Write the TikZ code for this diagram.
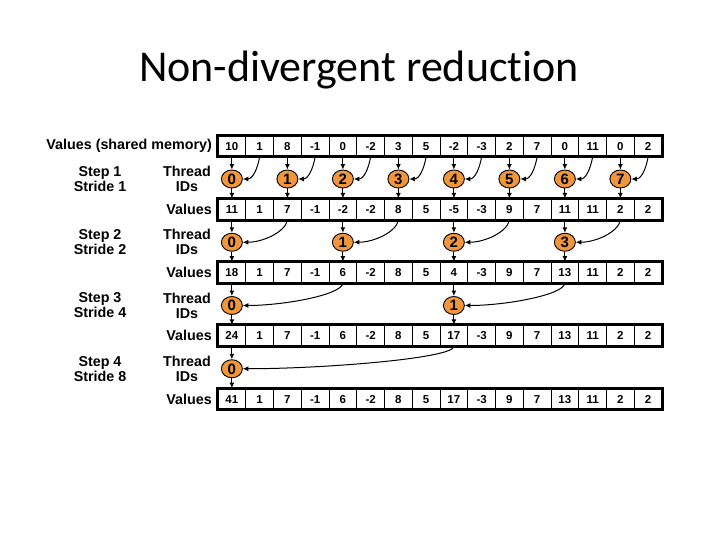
\documentclass[tikz,border=0pt]{standalone}
\usepackage{fontspec}
\setmainfont{Liberation Sans}
\newfontfamily\titlefont[Ligatures=NoCommon]{Carlito}
\usetikzlibrary{arrows.meta,shapes.geometric}
\definecolor{thrfill}{RGB}{240,150,60}
\newcommand\valrow[2]{%
  \foreach \v [count=\c from 0] in {#2} {%
    \node[cell] (v#1-\c) at ({218+27.75*(\c+0.5)},{146+63.25*#1}) {\v};}
  \draw[rowbox] (v#1-0.north west) rectangle (v#1-15.south east);}
\begin{document}
\begin{tikzpicture}[x=1pt,y=-1pt,
  cell/.style={draw,line width=0.8pt,minimum width=27.75pt,minimum height=21pt,inner sep=0pt,
    text height=8.3pt,text depth=0pt,font=\bfseries\fontsize{11.5}{13}\selectfont},
  rowbox/.style={line width=3pt},
  thr/.style={ellipse,draw,line width=0.9pt,fill=thrfill,minimum width=21pt,minimum height=18pt,
    inner sep=0pt,text height=10.7pt,text depth=0pt,font=\bfseries\fontsize{15}{17}\selectfont},
  arr/.style={line width=1pt,-{Latex[length=5.5pt,width=5pt]}},
  lbl/.style={font=\bfseries\fontsize{14.3}{15}\selectfont,align=center,inner sep=0pt}]
\useasboundingbox[fill=white] (0,0) rectangle (720,540);
\node[anchor=base,inner sep=0pt,font=\titlefont\fontsize{44}{50}\selectfont] (title) at (359,82) {Non-divergent reduction};
\valrow{0}{10,1,8,-1,0,-2,3,5,-2,-3,2,7,0,11,0,2}
\valrow{1}{11,1,7,-1,-2,-2,8,5,-5,-3,9,7,11,11,2,2}
\valrow{2}{18,1,7,-1,6,-2,8,5,4,-3,9,7,13,11,2,2}
\valrow{3}{24,1,7,-1,6,-2,8,5,17,-3,9,7,13,11,2,2}
\valrow{4}{41,1,7,-1,6,-2,8,5,17,-3,9,7,13,11,2,2}
\node[lbl,anchor=east] (lv0) at (212,146) {Values (shared memory)};
\foreach \r in {1,2,3,4} {
  \node[lbl,anchor=east] (lv\r) at (212,{146+63.25*\r}) {Values};
}
\foreach \s/\str in {1/1,2/2,3/4,4/8} {
  \node[lbl] (ls\s) at (100,{179+63.25*(\s-1)}) {Step \s\\Stride \str};
  \node[lbl] (lt\s) at (187,{179+63.25*(\s-1)}) {Thread\\IDs};
}
\foreach \s/\prev/\str/\n in {1/0/1/7,2/1/2/3,3/2/4/1,4/3/8/0} {
  \foreach \k in {0,...,\n} {
    \pgfmathtruncatemacro\c{\k*2*\str}
    \pgfmathtruncatemacro\src{\c+\str}
    \pgfmathsetmacro\ind{10*\str}
    \node[thr] (t\s-\k) at ({218+27.75*(\c+0.5)},{179+63.25*(\s-1)}) {\k};
    \draw[arr] (v\prev-\c.south) -- (t\s-\k.north);
    \draw[arr] (t\s-\k.south) -- (v\s-\c.north);
    \draw[arr] (v\prev-\src.south) to[out=-100,in=0,out distance=12pt,in distance=\ind pt] (t\s-\k.east);
  }
}
\end{tikzpicture}
\end{document}
